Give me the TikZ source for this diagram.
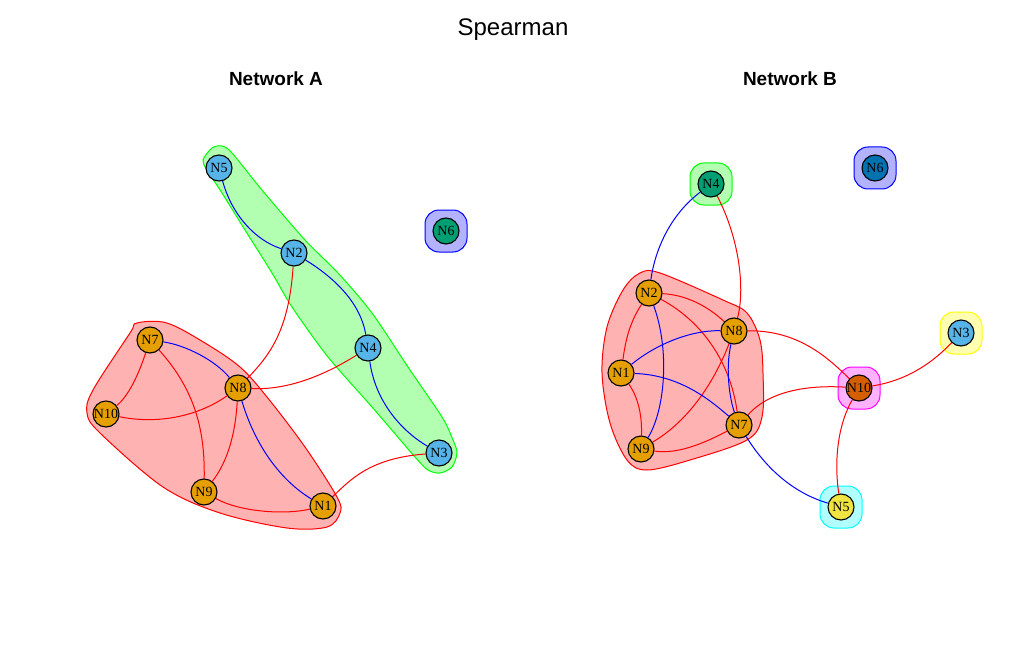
\documentclass[tikz,border=0pt]{standalone}
\usepackage{fontspec}
\setmainfont{Liberation Serif}
\newfontfamily\arialfont{Liberation Sans}
\usetikzlibrary{backgrounds}

\definecolor{cOrange}{HTML}{E69F00}
\definecolor{cSky}{HTML}{56B4E9}
\definecolor{cGreen}{HTML}{009E73}
\definecolor{cBlue}{HTML}{0072B2}
\definecolor{cVerm}{HTML}{D55E00}
\definecolor{cYellow}{HTML}{F0E442}
\definecolor{gRed}{HTML}{FF0000}
\definecolor{gGreen}{HTML}{00FF00}
\definecolor{gBlue}{HTML}{0000FF}
\definecolor{gYellow}{HTML}{FFFF00}
\definecolor{gMagenta}{HTML}{FF00FF}
\definecolor{gCyan}{HTML}{00FFFF}

\tikzset{
  vx/.style={draw, circle, minimum size=26pt, inner sep=0pt, line width=1.1pt, fill=#1, font=\fontsize{14}{14}\selectfont},
  poslink/.style={gRed, line width=1pt},
  neglink/.style={gBlue, line width=1pt},
  hull/.style={draw=#1, fill=#1!30!white, line width=1pt},
  hullbox/.style={hull=#1, rounded corners=14pt}
}

\begin{document}
\begin{tikzpicture}[x=1pt, y=-1pt]
\useasboundingbox (0,0) rectangle (1030,655);

\node[font=\arialfont\fontsize{24}{24}\selectfont] (title) at (513,29.5) {Spearman};
\node[font=\arialfont\bfseries\fontsize{19}{19}\selectfont] (headA) at (276,79) {Network A};
\node[font=\arialfont\bfseries\fontsize{19}{19}\selectfont] (headB) at (790,79) {Network B};

% network A
\node[vx=cSky] (a5) at (219,168) {N5};
\node[vx=cSky] (a2) at (294,253) {N2};
\node[vx=cSky] (a4) at (368,348) {N4};
\node[vx=cSky] (a3) at (439,453) {N3};
\node[vx=cGreen] (a6) at (446,231) {N6};
\node[vx=cOrange] (a7) at (150,340) {N7};
\node[vx=cOrange] (a8) at (238,388) {N8};
\node[vx=cOrange] (a10) at (106,414) {N10};
\node[vx=cOrange] (a9) at (204,492) {N9};
\node[vx=cOrange] (a1) at (323,506) {N1};

% network B
\node[vx=cGreen] (b4) at (711,184) {N4};
\node[vx=cBlue] (b6) at (875,168) {N6};
\node[vx=cOrange] (b2) at (649,293) {N2};
\node[vx=cOrange] (b8) at (734,331) {N8};
\node[vx=cSky] (b3) at (961,333) {N3};
\node[vx=cOrange] (b1) at (621,373) {N1};
\node[vx=cVerm] (b10) at (859,388) {N10};
\node[vx=cOrange] (b7) at (739,425) {N7};
\node[vx=cOrange] (b9) at (641,449) {N9};
\node[vx=cYellow] (b5) at (841,507) {N5};

\begin{scope}[on background layer]
\filldraw[hull=gRed] plot[smooth cycle, tension=0.55] coordinates {(137,323) (167,323) (205,343) (240,367) (267,397) (305,447) (337,497) (340,513) (327,527) (287,528) (220,513) (163,487) (100,433) (87,413) (93,390) (130,333)};
\filldraw[hull=gGreen] plot[smooth cycle, tension=0.5] coordinates {(203,160) (212,148) (222,146) (232,153) (262,190) (305,240) (338,273) (372,313) (408,367) (442,417) (453,440) (457,453) (452,467) (440,473) (428,470) (415,457) (372,407) (328,357) (292,307) (272,273) (245,230) (222,193) (207,170)};
\filldraw[hullbox=gBlue] (425,210) rectangle (467,252);

\filldraw[hull=gRed] plot[smooth cycle, tension=0.55] coordinates {(640,273) (660,273) (723,300) (747,313) (760,340) (763,373) (762,417) (747,440) (690,460) (647,470) (627,460) (610,423) (602,373) (607,327) (623,290)};
\filldraw[hullbox=gGreen] (690,163) rectangle (732,205);
\filldraw[hullbox=gBlue] (854,147) rectangle (896,189);
\filldraw[hullbox=gYellow] (940,312) rectangle (982,354);
\filldraw[hullbox=gMagenta] (838,367) rectangle (880,409);
\filldraw[hullbox=gCyan] (820,486) rectangle (862,528);

\draw[neglink] (a5) .. controls (232,215) and (255,240) .. (a2);
\draw[neglink] (a2) .. controls (330,275) and (360,300) .. (a4);
\draw[neglink] (a4) .. controls (375,400) and (400,430) .. (a3);
\draw[poslink] (a2) .. controls (289,330) and (270,355) .. (a8);
\draw[poslink] (a4) .. controls (320,378) and (285,390) .. (a8);
\draw[poslink] (a3) .. controls (370,458) and (350,480) .. (a1);
\draw[neglink] (a7) .. controls (185,345) and (215,360) .. (a8);
\draw[poslink] (a7) .. controls (140,370) and (130,395) .. (a10);
\draw[poslink] (a7) .. controls (195,390) and (205,430) .. (a9);
\draw[poslink] (a10) .. controls (160,425) and (200,415) .. (a8);
\draw[poslink] (a8) .. controls (235,440) and (225,465) .. (a9);
\draw[neglink] (a8) .. controls (255,445) and (280,480) .. (a1);
\draw[poslink] (a9) .. controls (240,512) and (285,515) .. (a1);

\draw[neglink] (b4) .. controls (670,215) and (655,250) .. (b2);
\draw[poslink] (b4) .. controls (740,240) and (745,290) .. (b8);
\draw[poslink] (b2) .. controls (690,295) and (712,310) .. (b8);
\draw[poslink] (b2) .. controls (628,325) and (625,345) .. (b1);
\draw[neglink] (b2) .. controls (670,350) and (665,410) .. (b9);
\draw[poslink] (b2) .. controls (700,320) and (730,360) .. (b7);
\draw[neglink] (b8) .. controls (690,330) and (655,345) .. (b1);
\draw[poslink] (b8) .. controls (715,380) and (690,420) .. (b9);
\draw[neglink] (b8) .. controls (725,370) and (730,400) .. (b7);
\draw[poslink] (b8) .. controls (800,330) and (830,360) .. (b10);
\draw[neglink] (b1) .. controls (680,375) and (710,400) .. (b7);
\draw[poslink] (b1) .. controls (640,400) and (642,420) .. (b9);
\draw[poslink] (b9) .. controls (680,455) and (710,440) .. (b7);
\draw[poslink] (b7) .. controls (770,390) and (810,385) .. (b10);
\draw[neglink] (b7) .. controls (770,475) and (800,495) .. (b5);
\draw[poslink] (b10) .. controls (910,380) and (935,360) .. (b3);
\draw[poslink] (b10) .. controls (835,430) and (835,470) .. (b5);
\end{scope}
\end{tikzpicture}
\end{document}
